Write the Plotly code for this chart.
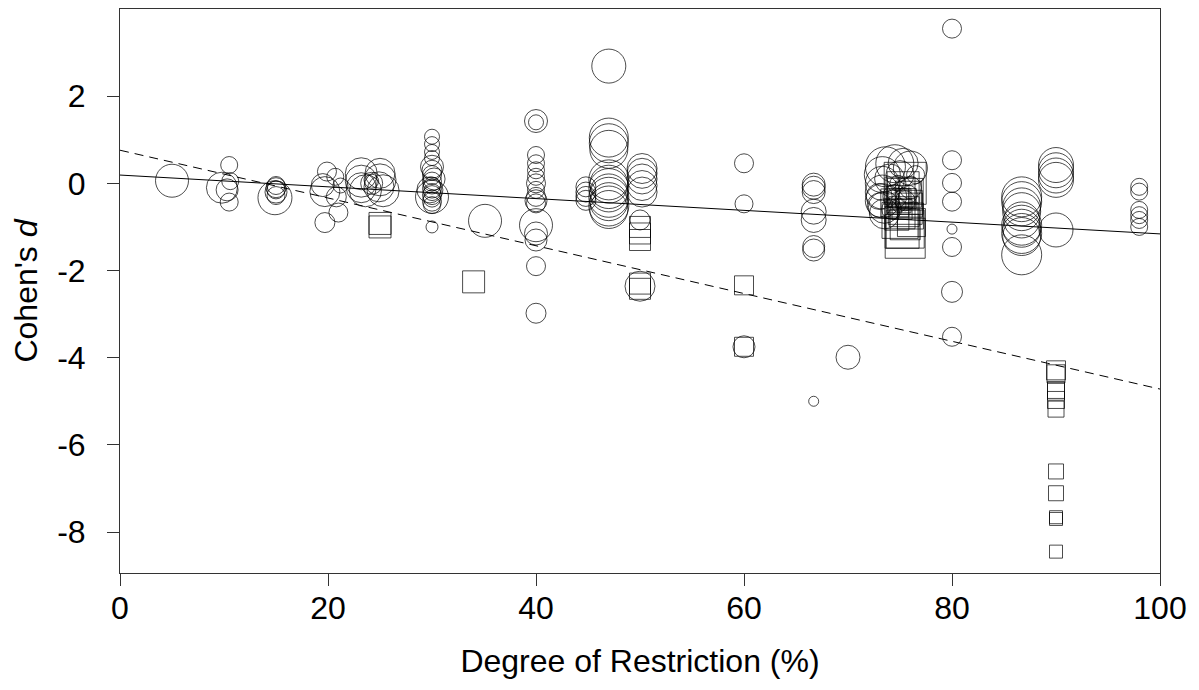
import plotly.graph_objects as go

# ---- Data ----
# Circles (one study type): degree of restriction (%), Cohen's d, marker diameter (weight)
circ_x = [5,
          9.8, 10.3, 10.5, 10.5, 10.6,
          15, 15, 15, 15, 15, 14.9,
          19.9, 20.7, 19.5, 19.7, 20.8, 21, 19.7, 21.2,
          23.2, 23.2, 23.2, 23.6,
          25, 25, 24.9, 25.3, 24.2, 24.2,
          30, 30, 30, 30, 30, 30, 30, 30, 30, 30, 30, 30, 30, 30, 30, 30, 30, 30.2, 29.8,
          35.1,
          40, 40, 40, 40, 40, 40, 40, 40, 40, 40, 40, 40, 40, 40, 40, 40,
          44.8, 44.8, 44.8, 44.8,
          47, 47, 47, 47, 47, 47, 47, 47, 47, 47, 47, 47,
          50.2, 50.2, 50.2, 50.2, 50.2, 50, 50,
          60, 60, 60,
          66.7, 66.7, 66.7, 66.7, 66.7, 66.7, 66.7, 66.7,
          70,
          73.6, 74.5, 75.3, 76, 73.3, 73.3, 73.3, 73.3, 73.5, 73.5, 74, 75, 74.5, 75.5, 76, 76.5, 74.8,
          73.0, 73.0, 74.2, 75.8, 74.9,
          80, 80, 80, 80, 80, 80, 80, 80,
          86.7, 86.7, 86.7, 86.7, 86.7, 86.7, 86.7, 86.7, 86.7, 86.7,
          90, 90, 90, 90, 90,
          98, 98, 98, 98, 98, 98]
circ_y = [0.06,
          -0.1, -0.15, 0.42, -0.43, 0.05,
          -0.05, -0.1, -0.15, -0.2, -0.28, -0.33,
          0.27, 0.15, -0.04, -0.19, -0.31, -0.67, -0.9, -0.05,
          0.22, 0.05, -0.1, -0.17,
          0.23, 0.08, -0.08, -0.17, 0.0, 0.05,
          1.07, 0.9, 0.72, 0.58, 0.38, 0.3, 0.19, 0.04, -0.05, -0.12, -0.2, -0.27, -0.35, -0.42, -0.5, -0.31, -1.0, 0.1, -0.15,
          -0.86,
          1.43, 1.40, 0.65, 0.46, 0.3, 0.15, 0.0, -0.15, -0.31, -0.46, -0.4, -0.96, -1.15, -1.3, -1.9, -2.98,
          -0.08, -0.2, -0.3, -0.39,
          2.69, 1.05, 0.92, 0.78, 0.08, -0.02, -0.12, -0.22, -0.32, -0.42, -0.52, -0.6,
          0.34, 0.23, 0.1, -0.05, -0.2, -0.84, -2.36,
          0.46, -0.47, -3.75,
          -0.03, -0.1, -0.2, -0.65, -0.84, -1.45, -1.53, -5.0,
          -3.99,
          0.38, 0.45, 0.46, 0.35, 0.2, 0.0, -0.2, -0.4, -0.55, -0.7, 0.1, 0.2, -0.3, -0.4, -0.1, 0.2, 0.0,
          -0.3, -0.5, -0.6, -0.25, -0.5,
          3.55, 0.53, 0.01, -0.42, -1.05, -1.46, -2.49, -3.52,
          -0.31, -0.42, -0.54, -0.65, -0.84, -0.96, -1.03, -1.15, -1.22, -1.64,
          0.42, 0.3, 0.18, 0.08, -1.07,
          -0.08, -0.19, -0.61, -0.73, -0.84, -1.0]
circ_w = [33,
          31, 22, 17, 18, 17,
          18, 20, 18, 22, 18, 34,
          19, 17, 23, 30, 20, 19, 20, 15,
          32, 32, 30, 32,
          30, 32, 30, 32, 22, 14,
          15, 15, 15, 15, 23, 20, 19, 19, 17, 19, 17, 19, 17, 19, 17, 33, 12, 22, 26,
          33,
          23, 15, 17, 17, 17, 17, 19, 17, 19, 19, 22, 33, 23, 22, 19, 20,
          20, 20, 20, 20,
          34, 39, 39, 38, 40, 38, 40, 38, 40, 38, 40, 38,
          30, 30, 30, 30, 30, 20, 30,
          19, 18, 22,
          23, 23, 23, 25, 25, 22, 22, 10,
          24,
          40, 38, 30, 34, 36, 34, 34, 34, 32, 30, 30, 28, 24, 20, 22, 18, 16,
          26, 24, 20, 18, 14,
          19, 19, 19, 19, 10, 19, 21, 19,
          40, 40, 38, 38, 36, 40, 38, 40, 38, 40,
          35, 35, 35, 35, 34,
          17, 17, 17, 17, 17, 17]

# Squares (other study type)
sq_x = [25, 25,
        34,
        50, 50, 50, 50, 50,
        60, 60,
        75.5, 75, 75.5, 74.5, 75.5, 75, 76, 75, 75.5, 75.5, 75.5, 74.8, 76, 75.2,
        75.3, 75.8, 74.9, 75.4, 76.1, 74.7, 75.6, 75.2,
        90, 90, 90, 90, 90, 90, 90, 90, 90, 90, 90]
sq_y = [-0.92, -1.0,
        -2.26,
        -1.0, -1.15, -1.3, -2.3, -2.42,
        -2.34, -3.75,
        0.0, -0.2, -0.3, -0.45, -0.55, -0.7, -0.75, -0.85, -0.95, -1.05, -1.26, -0.3, -0.5, -0.6,
        -0.1, -0.25, -0.4, -0.65, -0.9, -0.8, -0.35, -1.1,
        -4.29, -4.37, -4.74, -4.78, -4.97, -5.18, -6.61, -7.11, -7.66, -7.7, -8.45]
sq_w = [22, 22,
        22,
        21, 21, 21, 21, 21,
        19, 19,
        42, 30, 36, 28, 34, 30, 26, 36, 30, 38, 40, 22, 24, 20,
        32, 26, 24, 30, 28, 24, 20, 34,
        19, 18, 17, 17, 17, 16, 15, 15, 13, 13, 13]

# Fitted lines (endpoints)
fit_x = [0, 100]
fit_all_y = [0.19, -1.16]      # solid
fit_sq_y = [0.76, -4.72]       # dashed

x_ticks = [0, 20, 40, 60, 80, 100]
y_ticks = [-8, -6, -4, -2, 0, 2]

FONT = "Liberation Sans, Arial, sans-serif"
FS = 32

fig = go.Figure()
fig.add_trace(go.Scatter(x=fit_x, y=fit_all_y, mode="lines",
                         line=dict(color="black", width=1), hoverinfo="skip"))
fig.add_trace(go.Scatter(x=fit_x, y=fit_sq_y, mode="lines",
                         line=dict(color="black", width=1, dash="9px,6px"), hoverinfo="skip"))
fig.add_trace(go.Scatter(x=circ_x, y=circ_y, mode="markers",
                         marker=dict(symbol="circle-open", size=circ_w, sizemode="diameter",
                                     color="black", line=dict(width=1))))
fig.add_trace(go.Scatter(x=sq_x, y=sq_y, mode="markers",
                         marker=dict(symbol="square-open", size=sq_w,
                                     color="black", line=dict(width=1))))

axis_common = dict(showgrid=False, zeroline=False, showline=True, mirror=True,
                   linecolor="#333333", linewidth=1, ticks="outside", ticklen=12,
                   tickwidth=1, tickcolor="#333333",
                   tickfont=dict(family=FONT, size=FS, color="black"))

# The page body adds an 8px offset, so the figure is sized 8px smaller.
fig.update_layout(
    width=1191, height=682,
    margin=dict(l=112, r=39, t=1, b=117, autoexpand=False),
    paper_bgcolor="white", plot_bgcolor="white",
    showlegend=False,
    font=dict(family=FONT, color="black"),
    xaxis=dict(range=[0, 100], tickvals=x_ticks, ticktext=[str(v) for v in x_ticks],
               ticklabelstandoff=-5,
               title=dict(text="Degree of Restriction (%)", font=dict(family=FONT, size=FS),
                          standoff=24),
               **axis_common),
    yaxis=dict(range=[-8.94, 4.0], tickvals=y_ticks, ticktext=[str(v) for v in y_ticks],
               ticklabelstandoff=15,
               title=dict(text="Cohen's <i>d</i>", font=dict(family=FONT, size=FS),
                          standoff=12),
               **axis_common),
)

fig.write_html("out.html")
